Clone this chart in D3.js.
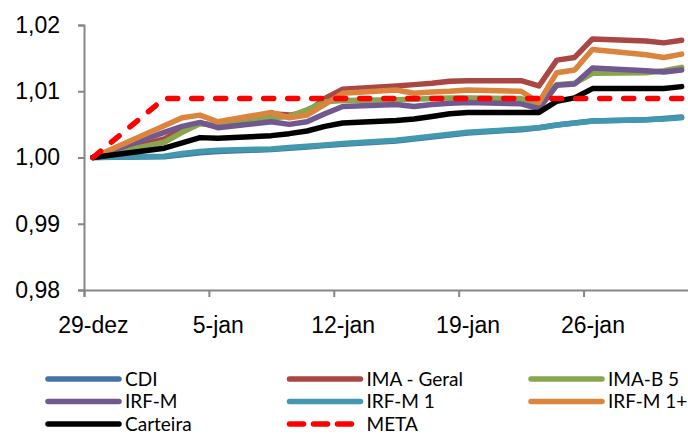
<!DOCTYPE html>
<html>
<head>
<meta charset="utf-8">
<script src="https://cdn.jsdelivr.net/npm/d3@7"></script>
<style>
  body { margin: 0; background: #fff; }
  svg { display: block; font-family: Lato, "Liberation Sans", sans-serif; }
</style>
</head>
<body>
<div id="chart"></div>
<script>
// dias úteis do período (29-dez a 31-jan)
const dates = ["2017-12-29","2018-01-02","2018-01-03","2018-01-04","2018-01-05",
  "2018-01-08","2018-01-09","2018-01-10","2018-01-11","2018-01-12",
  "2018-01-15","2018-01-16","2018-01-17","2018-01-18","2018-01-19",
  "2018-01-22","2018-01-23","2018-01-24","2018-01-25","2018-01-26",
  "2018-01-29","2018-01-30","2018-01-31"];

const cdi      = [1.0000,1.0001,1.0004,1.0007,1.0009,1.0012,1.0014,1.0016,1.0018,1.0020,1.0025,1.0028,1.0031,1.0034,1.0037,1.0042,1.0045,1.0049,1.0052,1.0055,1.0057,1.0059,1.0061];
const imaGeral = [1.0000,1.0028,1.0042,1.0052,1.0047,1.0066,1.0064,1.0068,1.0089,1.0103,1.0108,1.0110,1.0112,1.0115,1.0116,1.0116,1.0108,1.0147,1.0151,1.0179,1.0176,1.0173,1.0177];
const imaB5    = [1.0000,1.0023,1.0038,1.0051,1.0049,1.0060,1.0062,1.0072,1.0084,1.0086,1.0087,1.0088,1.0089,1.0090,1.0090,1.0089,1.0082,1.0110,1.0112,1.0127,1.0128,1.0131,1.0136];
const irfM     = [1.0000,1.0038,1.0047,1.0053,1.0045,1.0054,1.0050,1.0054,1.0066,1.0077,1.0080,1.0077,1.0080,1.0082,1.0083,1.0081,1.0074,1.0109,1.0111,1.0135,1.0131,1.0129,1.0132];
const irfM1    = [1.0000,1.0002,1.0006,1.0009,1.0011,1.0013,1.0015,1.0017,1.0019,1.0021,1.0026,1.0029,1.0032,1.0035,1.0038,1.0043,1.0045,1.0049,1.0052,1.0055,1.0057,1.0058,1.0060];
const irfM1p   = [1.0000,1.0048,1.0060,1.0064,1.0054,1.0068,1.0060,1.0064,1.0080,1.0097,1.0102,1.0097,1.0099,1.0100,1.0102,1.0100,1.0083,1.0128,1.0132,1.0163,1.0155,1.0151,1.0156];
const carteira = [1.0000,1.0014,1.0022,1.0030,1.0029,1.0033,1.0036,1.0040,1.0047,1.0052,1.0056,1.0058,1.0062,1.0066,1.0068,1.0068,1.0068,1.0085,1.0090,1.0104,1.0104,1.0104,1.0107];
const meta     = [1.0000,1.0089,1.0089,1.0089,1.0089,1.0089,1.0089,1.0089,1.0089,1.0089,1.0089,1.0089,1.0089,1.0089,1.0089,1.0089,1.0089,1.0089,1.0089,1.0089,1.0089,1.0089,1.0089];

const seriesNames = ["CDI","IMA - Geral","IMA-B 5","IRF-M","IRF-M 1","IRF-M 1+","Carteira","META"];
const seriesValues = [cdi, imaGeral, imaB5, irfM, irfM1, irfM1p, carteira, meta];
const seriesColors = ["#4572A7","#AA4643","#89A54E","#71588F","#4198AF","#DB843D","#000000","#FF0000"];

const yTicks = [0.98, 0.99, 1.00, 1.01, 1.02];
const xTicks = ["2017-12-29","2018-01-05","2018-01-12","2018-01-19","2018-01-26"];
const monthNames = ["jan","fev","mar","abr","mai","jun","jul","ago","set","out","nov","dez"];

const W = 688, H = 434;
const DAY = 24 * 3600 * 1000;
const parse = d3.utcParse("%Y-%m-%d");

const svg = d3.select("#chart").append("svg")
    .attr("width", W)
    .attr("height", H);

// eixo de datas: cada dia é um intervalo, pontos no meio do dia
const x = d3.scaleUtc()
    .domain([parse("2017-12-29"), parse("2018-02-01")])
    .range([84, 690.6]);

const y = d3.scaleLinear()
    .domain([0.98, 1.02])
    .range([290, 25]);

const axisColor = "#868686";

const xAxis = svg.append("g")
    .attr("transform", "translate(0,290)")
    .call(d3.axisBottom(x)
        .tickValues(xTicks.map(parse))
        .tickSize(7)
        .tickPadding(20)
        .tickFormat(d => d.getUTCDate() + "-" + monthNames[d.getUTCMonth()]));
xAxis.select(".domain").attr("stroke", axisColor).attr("stroke-width", 2);
xAxis.selectAll(".tick line").attr("stroke", axisColor).attr("stroke-width", 2);
xAxis.selectAll(".tick text")
    .attr("x", x(new Date(+parse("2017-12-29") + DAY / 2)) - x(parse("2017-12-29")))
    .attr("fill", "#000")
    .style("font-size", "23px");

const yAxis = svg.append("g")
    .attr("transform", "translate(84,0)")
    .call(d3.axisLeft(y)
        .tickValues(yTicks)
        .tickSize(6)
        .tickPadding(18)
        .tickFormat(d => d3.format(".2f")(d).replace(".", ",")));
yAxis.select(".domain").attr("stroke", axisColor).attr("stroke-width", 2);
yAxis.selectAll(".tick line").attr("stroke", axisColor).attr("stroke-width", 2);
yAxis.selectAll(".tick text")
    .attr("fill", "#000")
    .style("font-size", "23px");

const line = d3.line()
    .x((d, i) => x(new Date(+parse(dates[i]) + DAY / 2)))
    .y(d => y(d));

svg.append("g")
  .selectAll("path")
  .data(seriesValues)
  .join("path")
    .attr("d", d => line(d))
    .attr("fill", "none")
    .attr("stroke", (d, i) => seriesColors[i])
    .attr("stroke-width", 5.5)
    .attr("stroke-linejoin", "round")
    .attr("stroke-linecap", "round")
    .attr("stroke-dasharray", (d, i) => seriesNames[i] === "META" ? "10,14" : null);

// legenda: 3 colunas
const legend = svg.append("g");
const legendItems = legend.selectAll("g")
  .data(seriesNames)
  .join("g")
    .attr("transform", (d, i) => `translate(${48 + (i % 3) * 241.5},${379 + Math.floor(i / 3) * 22.5})`);

legendItems.append("line")
    .attr("x1", 0)
    .attr("x2", 71)
    .attr("stroke", (d, i) => seriesColors[i])
    .attr("stroke-width", 5.5)
    .attr("stroke-linecap", "round")
    .attr("stroke-dasharray", d => d === "META" ? "14,10" : null);

legendItems.append("text")
    .attr("x", 77)
    .attr("dy", "0.36em")
    .style("font-size", "19px")
    .text(d => d);
</script>
</body>
</html>
